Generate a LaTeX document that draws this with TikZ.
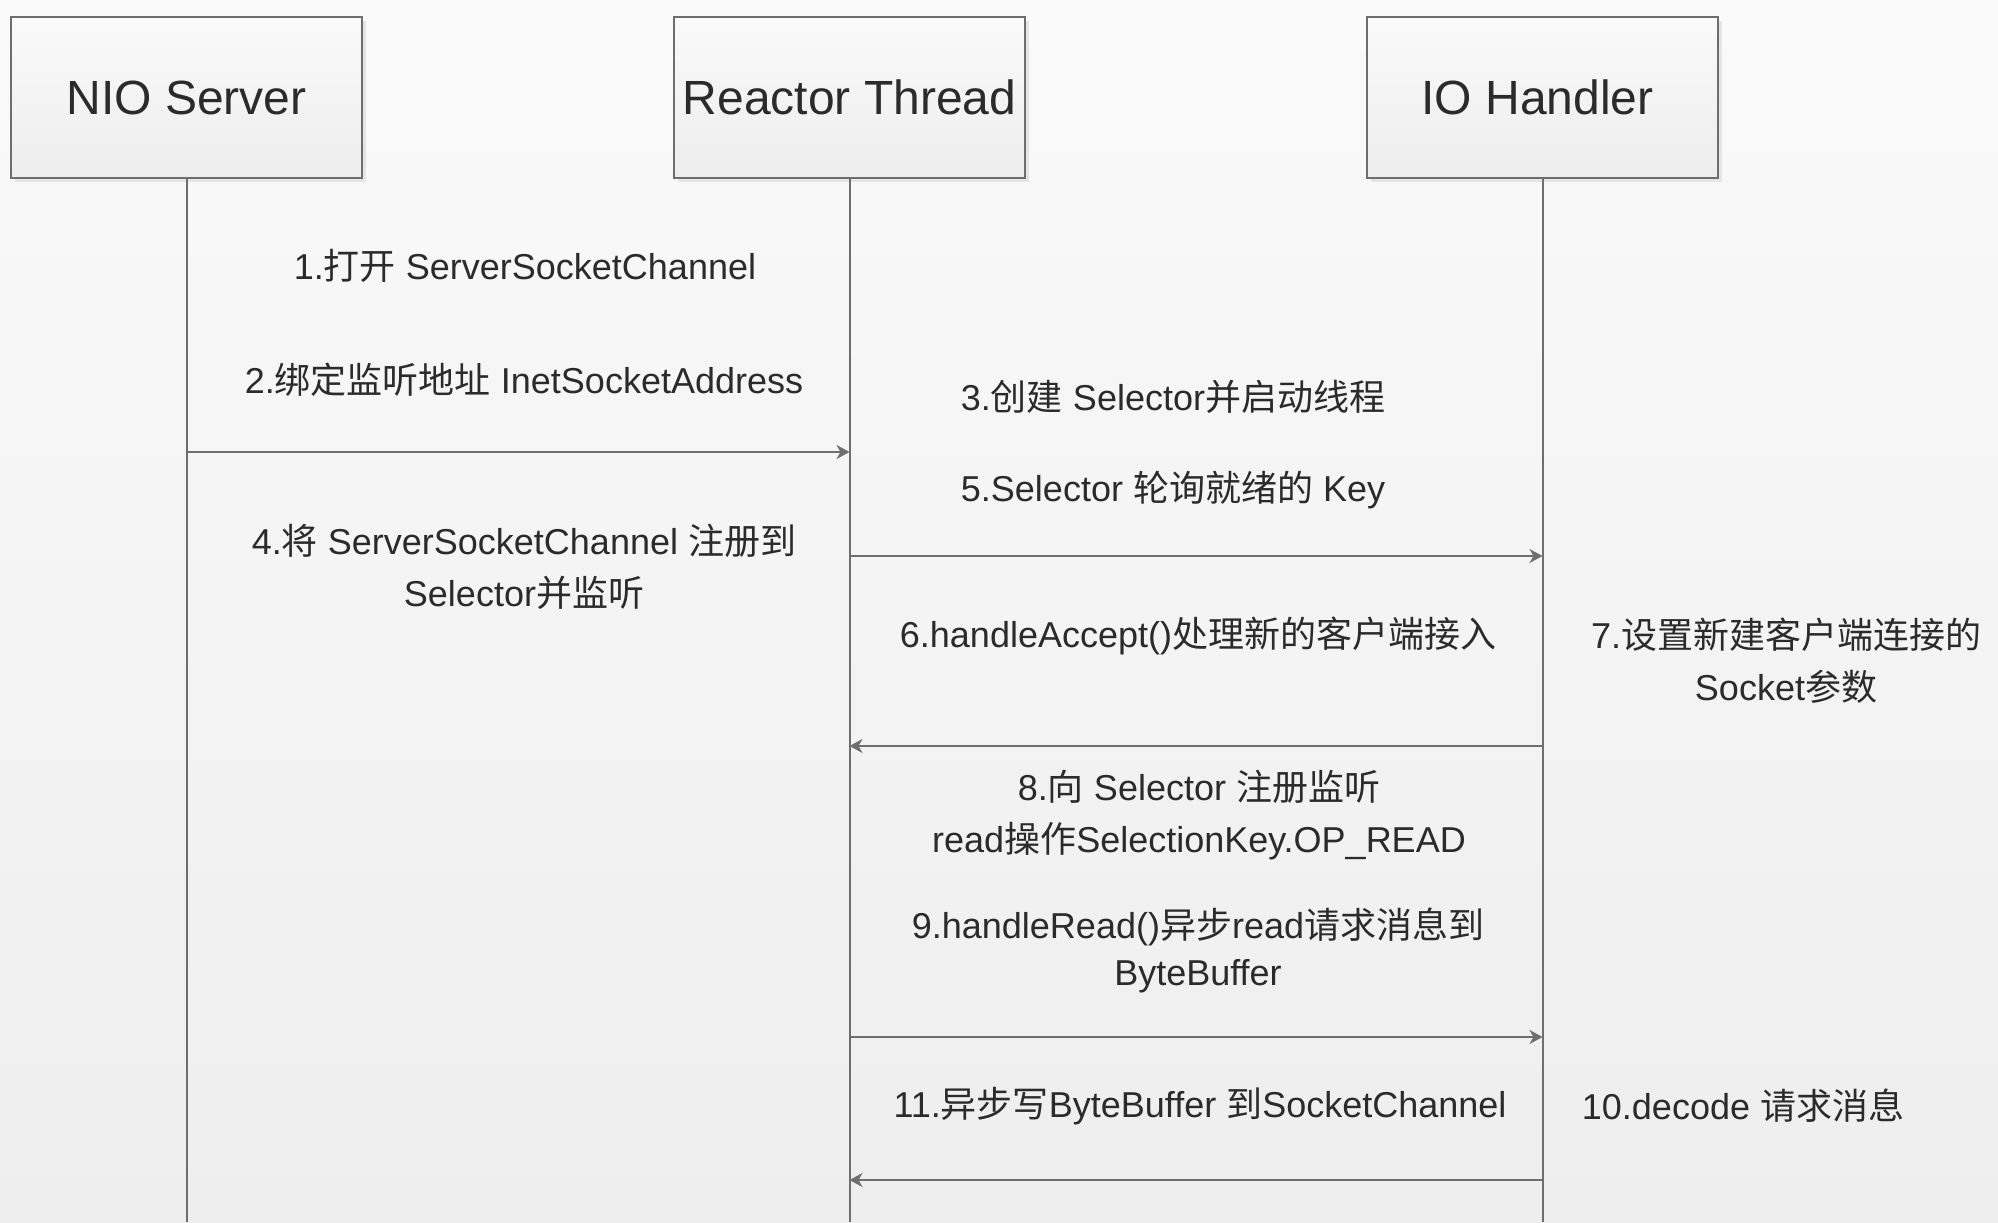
\documentclass[tikz,border=0pt]{standalone}
\usepackage{fontspec}
\setmainfont{Liberation Sans}
\newfontfamily\cjk{Noto Sans CJK SC}
\usetikzlibrary{arrows.meta,shadows}
\definecolor{txt}{HTML}{2B2B2B}
\definecolor{ln}{HTML}{6E6E6E}
\definecolor{bgtop}{HTML}{FAFAFA}
\definecolor{bgbot}{HTML}{EEEEEE}
\definecolor{boxtop}{HTML}{FAFAFA}
\definecolor{boxbot}{HTML}{EDEDED}
\begin{document}
\begin{tikzpicture}[x=0.5pt,y=-0.5pt,
  actor/.style={draw=ln, line width=1pt, top color=boxtop, bottom color=boxbot,
    minimum width=175.5pt, minimum height=80.5pt, inner sep=0pt,
    text=txt, font=\fontsize{24}{28}\selectfont,
    drop shadow={shadow xshift=2pt, shadow yshift=-2pt, fill=black!10, opacity=1}},
  life/.style={draw=ln, line width=1pt},
  msg/.style={draw=ln, line width=1pt, -{Stealth[length=6.5pt,width=7pt,inset=2pt]}},
  lbl/.style={text=txt, align=center, inner sep=0pt, font=\fontsize{18}{26}\selectfont}]
\shade[top color=bgtop, bottom color=bgbot] (0,0) rectangle (1998,1222);
\useasboundingbox (0,0) rectangle (1998,1222);

% actors
\node[actor] (nio) at (186.5,97.5) {NIO Server};
\node[actor] (rt)  at (849.5,97.5) {Reactor Thread};
\node[actor] (ioh) at (1542.5,97.5) {\hspace*{-5pt}IO Handler};

% lifeline ends
\coordinate (nioEnd) at (186.5,1222);
\coordinate (rtEnd)  at (849.5,1222);
\coordinate (iohEnd) at (1542.5,1222);
\draw[life] (nio.south) -- (nioEnd);
\draw[life] (rt.south) -- (rtEnd);
\draw[life] (ioh.south) -- (iohEnd);

% message points
\coordinate (m1a) at (186.5,452);  \coordinate (m1b) at (849.5,452);
\coordinate (m2a) at (849.5,556);  \coordinate (m2b) at (1542.5,556);
\coordinate (m3a) at (1542.5,746); \coordinate (m3b) at (849.5,746);
\coordinate (m4a) at (849.5,1037); \coordinate (m4b) at (1542.5,1037);
\coordinate (m5a) at (1542.5,1180); \coordinate (m5b) at (849.5,1180);

\draw[msg] (m1a) -- (m1b);
\draw[msg] (m2a) -- (m2b);
\draw[msg] (m3a) -- (m3b);
\draw[msg] (m4a) -- (m4b);
\draw[msg] (m5a) -- (m5b);

% labels
\node[lbl] (t1) at (525,266) {1.{\cjk 打开} ServerSocketChannel};
\node[lbl] (t2) at (524,380) {2.{\cjk 绑定监听地址} InetSocketAddress};
\node[lbl] (t3) at (1173,397) {3.{\cjk 创建} Selector{\cjk 并启动线程}};
\node[lbl] (t5) at (1173,490) {5.Selector {\cjk 轮询就绪的} Key};
\node[lbl] (t4) at (524,567) {4.{\cjk 将} ServerSocketChannel {\cjk 注册到}\\Selector{\cjk 并监听}};
\node[lbl] (t6) at (1198,636) {6.handleAccept(){\cjk 处理新的客户端接入}};
\node[lbl] (t7) at (1786,661) {7.{\cjk 设置新建客户端连接的}\\Socket{\cjk 参数}};
\node[lbl] (t8) at (1199,815) {8.{\cjk 向} Selector {\cjk 注册监听}\\read{\cjk 操作}SelectionKey.OP\_READ};
\node[lbl] (t9) at (1198,950) {9.handleRead(){\cjk 异步}read{\cjk 请求消息到}\\[-2.5pt]ByteBuffer};
\node[lbl] (t11) at (1200,1106) {11.{\cjk 异步写}ByteBuffer {\cjk 到}SocketChannel};
\node[lbl] (t10) at (1743,1106) {10.decode {\cjk 请求消息}};
\end{tikzpicture}
\end{document}
